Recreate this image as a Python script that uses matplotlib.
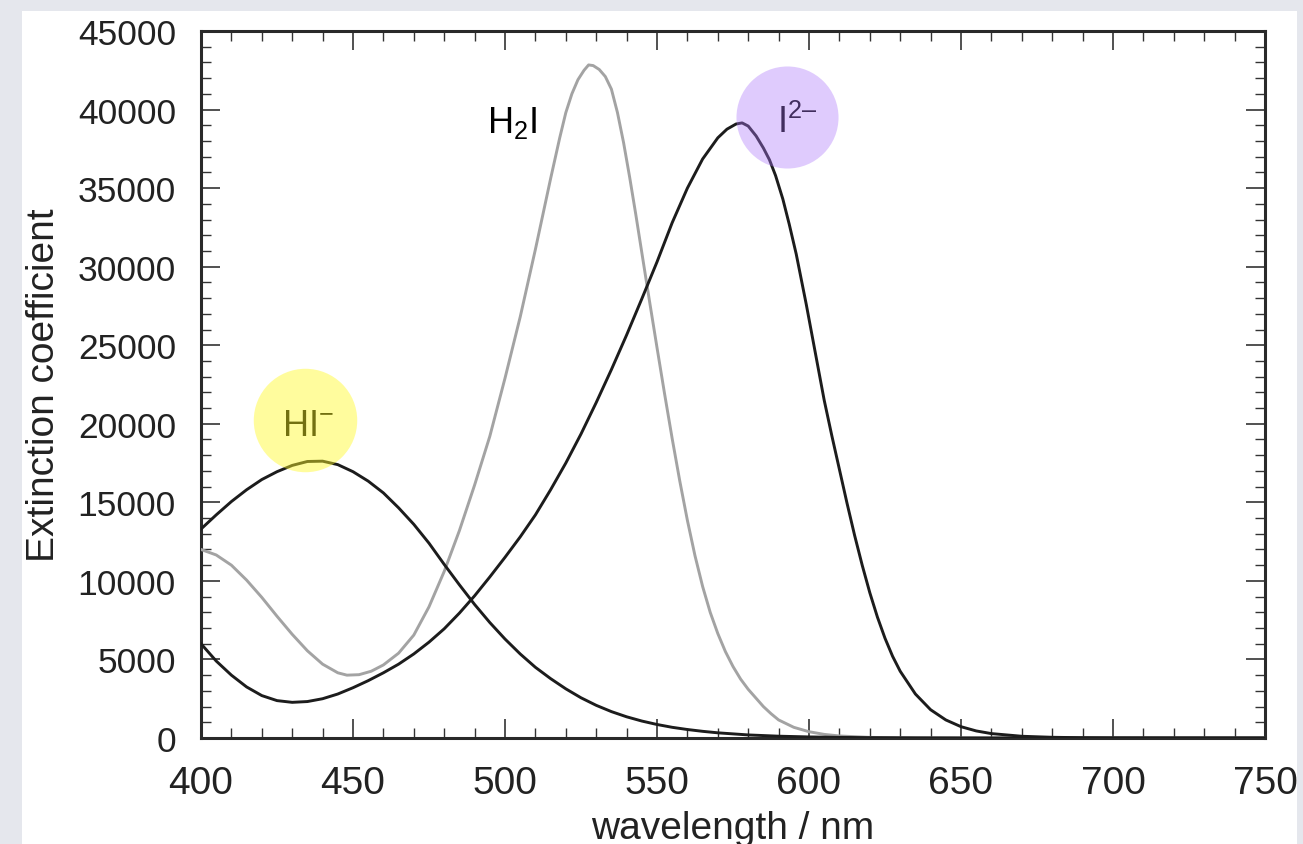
import matplotlib
matplotlib.use('Agg')
import matplotlib.pyplot as plt
from matplotlib.patches import Rectangle
from matplotlib.ticker import MultipleLocator, FixedLocator

# ---------------- data ----------------
hi_wl = [400, 405, 410, 415, 420, 425, 430, 435, 440, 445, 450, 455, 460, 465, 470,
         475, 480, 485, 490, 495, 500, 505, 510, 515, 520, 525, 530, 535, 540, 545,
         550, 555, 560, 565, 570, 580, 590, 600, 610, 620, 635, 650, 675, 700, 750]
hi_val = [13300, 14200, 15050, 15800, 16450, 16950, 17350, 17600, 17620, 17400, 16950,
          16350, 15600, 14650, 13600, 12400, 11050, 9750, 8500, 7350, 6300, 5350, 4500,
          3780, 3130, 2560, 2080, 1680, 1350, 1080, 860, 680, 540, 425, 330, 195, 115, 68,
          40, 23, 10, 5, 1, 0, 0]

h2i_wl = [400, 405, 410, 415, 420, 425, 430, 435, 440, 445, 448, 452, 456, 460, 465,
          470, 475, 480, 485, 490, 495, 500, 505, 510, 515, 518, 520, 522, 524, 526,
          527.5, 529, 531, 533, 535, 537, 539, 541, 543, 545, 547.5, 550, 552.5, 555,
          557.5, 560, 562.5, 565, 567.5, 570, 572.5, 575, 577.5, 580, 582.5, 585, 587.5,
          590, 595, 600, 605, 610, 620, 630, 640, 660, 750]
h2i_val = [12000, 11650, 11000, 10050, 8950, 7750, 6600, 5550, 4700, 4150, 4000, 4030,
           4250, 4650, 5400, 6550, 8350, 10600, 13200, 16100, 19200, 22900, 26800, 31100,
           35600, 38200, 39800, 41000, 41900, 42500, 42840, 42800, 42550, 42100, 41300,
           39800, 37900, 35700, 33350, 30900, 27850, 24850, 21900, 19050, 16350, 13850,
           11600, 9650, 8000, 6650, 5500, 4550, 3750, 3100, 2550, 2000, 1550, 1150, 680,
           400, 230, 130, 40, 12, 4, 0, 0]

i2_wl = [400, 405, 410, 415, 420, 425, 430, 435, 440, 445, 450, 455, 460, 465, 470,
         475, 480, 485, 490, 495, 500, 505, 510, 515, 520, 525, 530, 535, 540, 545,
         550, 555, 560, 565, 570, 573, 576, 578, 580, 582.6, 585, 587, 589, 591.4, 593.5,
         595.8, 599.1, 602, 605, 607.5, 610, 612.5, 615, 617.5, 620, 622.5, 625, 627.5,
         630, 635, 640, 645, 650, 655, 660, 670, 680, 690, 700, 720, 750]
i2_val = [6000, 4900, 4000, 3250, 2700, 2380, 2270, 2320, 2500, 2800, 3200, 3650, 4150,
          4700, 5350, 6100, 6950, 7950, 9050, 10250, 11500, 12800, 14200, 15800, 17500,
          19350, 21350, 23450, 25650, 27950, 30300, 32800, 35000, 36850, 38200, 38750,
          39080, 39150, 38950, 38320, 37550, 36800, 35800, 34300, 32700, 30800, 27600,
          24600, 21500, 19250, 17100, 14950, 12900, 11000, 9250, 7700, 6350, 5200, 4250,
          2800, 1800, 1150, 720, 450, 280, 110, 45, 18, 7, 1, 0]

x_ticks = [400, 450, 500, 550, 600, 650, 700, 750]
y_ticks = [0, 5000, 10000, 15000, 20000, 25000, 30000, 35000, 40000, 45000]

labels = {'HI': r'HI$^{-}$', 'H2I': r'H$_{2}$I', 'I2': 'I$^{2\u2013}$'}
label_pos = {'HI': (435.2, 19290), 'H2I': (502.2, 38550), 'I2': (596.2, 38550)}
circle_pos = {'HI': (434.2, 20240), 'I2': (592.6, 39530)}

# ---------------- style ----------------
plt.rcParams['font.family'] = ['Liberation Sans', 'DejaVu Sans']
plt.rcParams['mathtext.fontset'] = 'custom'
plt.rcParams['mathtext.rm'] = 'Liberation Sans'
plt.rcParams['mathtext.it'] = 'Liberation Sans:italic'
plt.rcParams['mathtext.bf'] = 'Liberation Sans:bold'
plt.rcParams['mathtext.sf'] = 'Liberation Sans'

W, H = 1303, 845
fig = plt.figure(figsize=(W / 100, H / 100), dpi=100)
fig.patch.set_facecolor('#e5e7ed')
fig.patches.append(Rectangle((22 / W, 0), 1275 / W, 833 / H, transform=fig.transFigure,
                             facecolor='white', edgecolor='none', zorder=-5))

ax = fig.add_axes([201 / W, 106 / H, 1064 / W, 707 / H])
ax.set_facecolor('white')

ax.plot(h2i_wl, h2i_val, color='#a3a3a3', lw=2.1, zorder=3, solid_joinstyle='round')
ax.plot(hi_wl, hi_val, color='#1c1c1c', lw=2.1, zorder=4, solid_joinstyle='round')
ax.plot(i2_wl, i2_val, color='#1c1c1c', lw=2.1, zorder=4, solid_joinstyle='round')

tc = '#222222'
for k, (x, y) in label_pos.items():
    ax.text(x, y, labels[k], fontsize=26, color='black', ha='center', va='baseline', zorder=5)

ax.scatter([circle_pos['HI'][0]], [circle_pos['HI'][1]], s=5550, color=(1.0, 0.98, 0.15),
           alpha=0.45, linewidths=0, zorder=6, clip_on=False)
ax.scatter([circle_pos['I2'][0]], [circle_pos['I2'][1]], s=5400, color=(0.68, 0.47, 0.98),
           alpha=0.38, linewidths=0, zorder=6, clip_on=False)

ax.set_xlim(400, 750)
ax.set_ylim(0, 45000)
ax.xaxis.set_major_locator(FixedLocator(x_ticks))
ax.yaxis.set_major_locator(FixedLocator(y_ticks))
ax.xaxis.set_minor_locator(MultipleLocator(10))
ax.yaxis.set_minor_locator(MultipleLocator(1000))
ax.set_xticklabels([str(v) for v in x_ticks])
ax.set_yticklabels([str(v) for v in y_ticks])

ax.tick_params(which='both', direction='in', top=True, right=True, color='#333333')
ax.tick_params(which='major', length=14, width=1.2)
ax.tick_params(which='minor', length=7.5, width=1.0)
ax.tick_params(axis='x', labelsize=28, pad=19.5, labelcolor=tc)
ax.tick_params(axis='y', labelsize=25.5, pad=18, labelcolor=tc)

for s in ax.spines.values():
    s.set_linewidth(2.2)
    s.set_color('#2a2a2a')

ax.set_xlabel('wavelength / nm', fontsize=28, color=tc, labelpad=6.5)
ax.set_ylabel('Extinction coefficient', fontsize=28, color=tc, labelpad=11)

fig.savefig('out.png', dpi=100, facecolor=fig.get_facecolor())
